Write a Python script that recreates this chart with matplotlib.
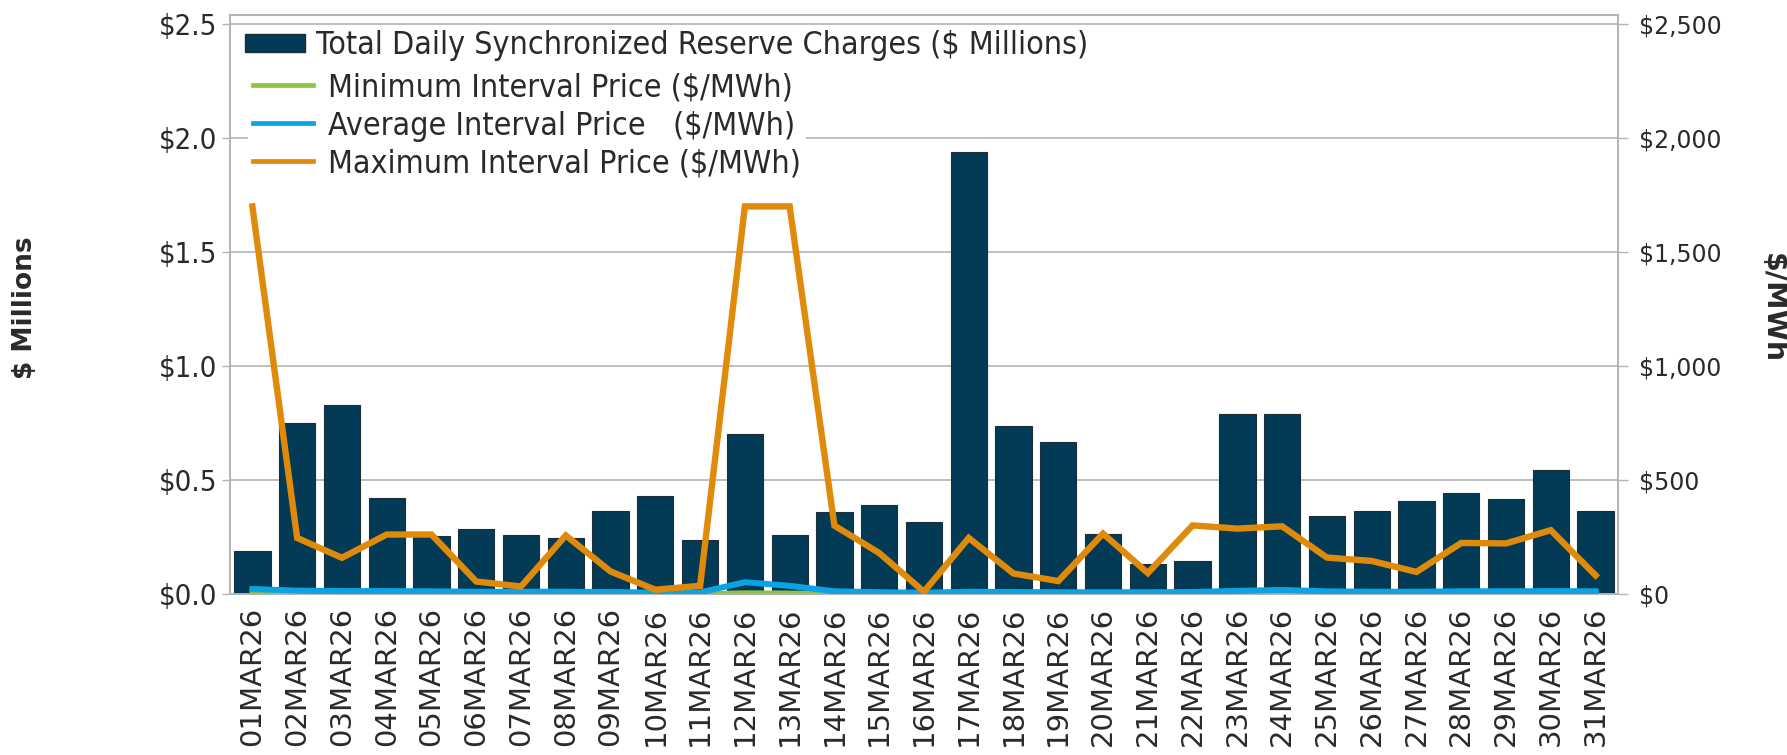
import matplotlib
matplotlib.use("Agg")
import matplotlib.pyplot as plt
from matplotlib.font_manager import FontProperties
from matplotlib.lines import Line2D
from matplotlib.patches import Patch
import numpy as np

# Daily values for March 2026
dates = ["01MAR26", "02MAR26", "03MAR26", "04MAR26", "05MAR26", "06MAR26", "07MAR26",
         "08MAR26", "09MAR26", "10MAR26", "11MAR26", "12MAR26", "13MAR26", "14MAR26",
         "15MAR26", "16MAR26", "17MAR26", "18MAR26", "19MAR26", "20MAR26", "21MAR26",
         "22MAR26", "23MAR26", "24MAR26", "25MAR26", "26MAR26", "27MAR26", "28MAR26",
         "29MAR26", "30MAR26", "31MAR26"]

# Total daily synchronized reserve charges ($ millions)
charges = [0.19, 0.75, 0.83, 0.42, 0.255, 0.286, 0.259, 0.246, 0.364, 0.43, 0.239,
           0.70, 0.259, 0.358, 0.391, 0.314, 1.94, 0.738, 0.665, 0.264, 0.13,
           0.145, 0.79, 0.79, 0.343, 0.365, 0.41, 0.442, 0.417, 0.543, 0.365]

# Interval prices ($/MWh)
min_price = [1, 1, 1, 1, 1, 1, 1, 1, 1, 1, 1, 4, 3, 1, 1, 1, 1, 1, 1, 1, 1,
             1, 1, 2, 1, 1, 1, 1, 1, 1, 1]
avg_price = [22, 15, 13, 13, 12, 10, 10, 10, 9, 6, 7, 52, 36, 12, 8, 6, 10, 9, 8, 8, 8,
             9, 14, 18, 12, 10, 10, 12, 12, 13, 12]
max_price = [1700, 246, 159, 261, 261, 55, 33, 257, 99, 19, 36, 1700, 1700, 300, 180,
             10, 246, 90, 57, 265, 92, 301, 287, 297, 160, 145, 97, 224, 222, 280, 82]

left_ticks = [0.0, 0.5, 1.0, 1.5, 2.0, 2.5]
right_ticks = [0, 500, 1000, 1500, 2000, 2500]

BAR = "#033A56"
GREEN = "#8DC63F"
BLUE = "#0BA3E3"
ORANGE = "#E08A0B"
GRID = "#B4B4B4"
TXT = "#2A2A2A"

tick_font = FontProperties(family="DejaVu Sans", stretch="condensed", size=21)
legend_font = FontProperties(family="DejaVu Sans", stretch="condensed", size=23)

fig = plt.figure(figsize=(17.87, 7.55), dpi=100)
ax = fig.add_axes([0.1287, 0.2132, 0.9054 - 0.1287, 0.7669])
ax2 = ax.twinx()

x = np.arange(len(dates))
top_pad = 9 / 228.0
ax.set_ylim(0, 2.5 + top_pad)
ax2.set_ylim(0, 2500 + top_pad * 1000)
ax.set_xlim(-0.5, len(dates) - 0.5)

ax.set_axisbelow(True)
for t in left_ticks:
    ax.axhline(t, color=GRID, lw=1.2, zorder=0)

ax.bar(x, charges, width=0.81, color=BAR, edgecolor="#1E2E38", linewidth=0.8, zorder=2)

ax2.plot(x, min_price, color=GREEN, lw=4.0, zorder=3, solid_joinstyle="miter")
ax2.plot(x, avg_price, color=BLUE, lw=4.3, zorder=4, solid_joinstyle="miter")
ax2.plot(x, max_price, color=ORANGE, lw=4.6, zorder=5, solid_joinstyle="miter")

for a in (ax, ax2):
    for s in a.spines.values():
        s.set_color(GRID)
        s.set_linewidth(1.2)

ax.set_yticks(left_ticks)
ax.set_yticklabels([f"${v:.1f}" for v in left_ticks], fontproperties=tick_font, color=TXT)
ax.tick_params(axis="y", length=6, width=1, color=GRID, pad=3)

ax2.set_yticks(right_ticks)
ax2.set_yticklabels([f"${v:,}" for v in right_ticks], fontsize=17, color=TXT)
ax2.tick_params(axis="y", length=7, width=1, color=GRID, pad=8)

ax.set_xticks(x)
ax.set_xticklabels(dates, rotation=90, fontsize=21, color=TXT)
ax.tick_params(axis="x", length=0, pad=9)

fig.text(0.014, 0.592, "$ Millions", rotation=90, ha="center", va="center",
         fontsize=19, fontweight="bold", color=TXT)
fig.text(0.992, 0.592, "$/MWh", rotation=-90, ha="center", va="center",
         fontsize=20.5, fontweight="bold", color=TXT)

# Bar entry on its own row
bar_leg = ax2.legend([Patch(facecolor=BAR, edgecolor="#1E2E38")],
                     ["Total Daily Synchronized Reserve Charges ($ Millions)"],
                     loc="upper left", bbox_to_anchor=(0.0108, 0.974),
                     prop=legend_font, frameon=False, borderpad=0, borderaxespad=0,
                     handlelength=1.87, handleheight=0.5, handletextpad=0.36)
for t in bar_leg.get_texts():
    t.set_color(TXT)
ax2.add_artist(bar_leg)

# Price series entries below it, on a white box
line_handles = [
    Line2D([], [], color=GREEN, lw=3.4),
    Line2D([], [], color=BLUE, lw=3.4),
    Line2D([], [], color=ORANGE, lw=3.4),
]
line_labels = [
    "Minimum Interval Price ($/MWh)",
    "Average Interval Price   ($/MWh)",
    "Maximum Interval Price ($/MWh)",
]
line_leg = ax2.legend(line_handles, line_labels, loc="upper left",
                      bbox_to_anchor=(0.0131, 0.9088), prop=legend_font,
                      frameon=True, fancybox=False, borderpad=0.15, borderaxespad=0,
                      handlelength=1.87, handletextpad=0.47, labelspacing=0.22)
line_leg.get_frame().set_facecolor("white")
line_leg.get_frame().set_edgecolor("none")
line_leg.get_frame().set_alpha(1.0)
for t in line_leg.get_texts():
    t.set_color(TXT)

fig.savefig("out.png", dpi=100)
